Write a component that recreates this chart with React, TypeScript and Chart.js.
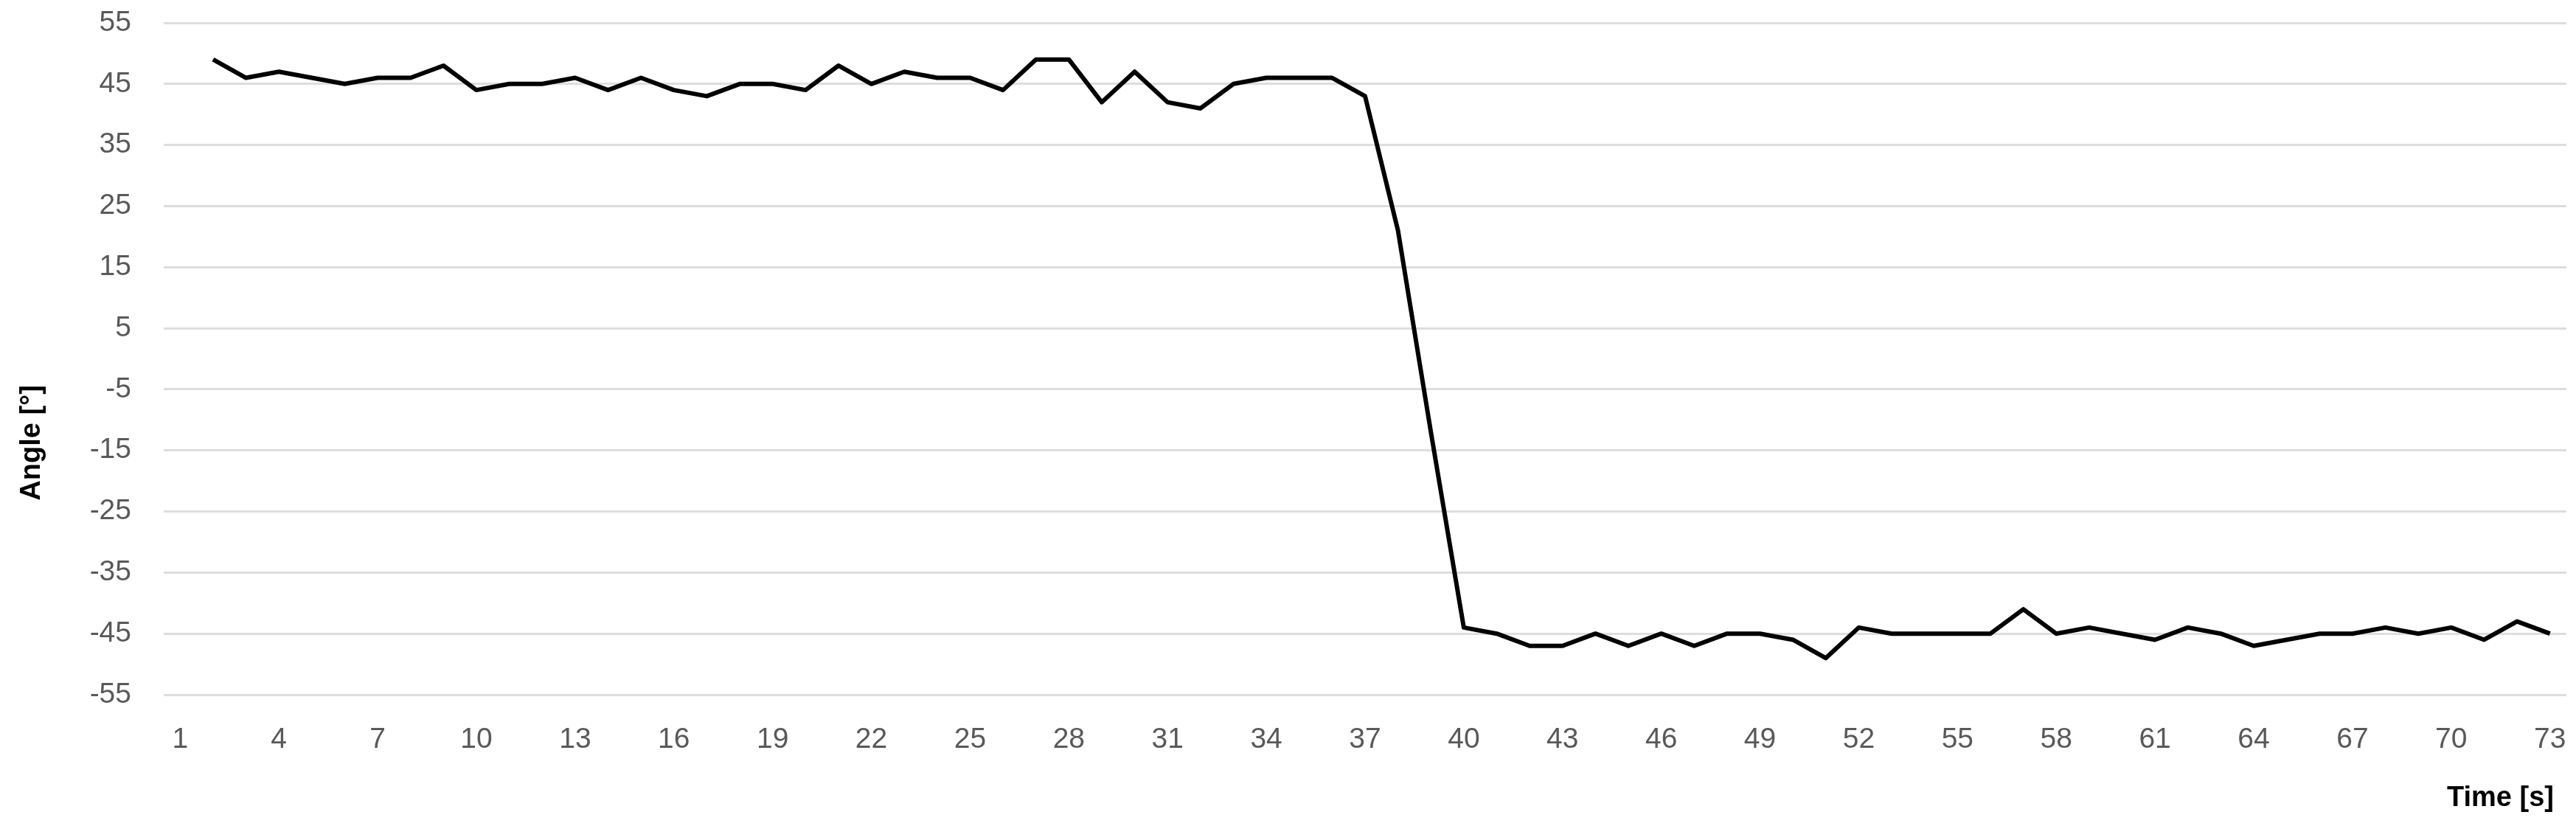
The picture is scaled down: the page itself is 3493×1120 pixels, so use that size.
import React, { useEffect, useRef } from "react";
import { Chart, registerables } from "chart.js";

Chart.register(...registerables);

const TIME_LABELS = [
  "1", "2", "3", "4", "5", "6", "7", "8", "9", "10",
  "11", "12", "13", "14", "15", "16", "17", "18", "19", "20",
  "21", "22", "23", "24", "25", "26", "27", "28", "29", "30",
  "31", "32", "33", "34", "35", "36", "37", "38", "39", "40",
  "41", "42", "43", "44", "45", "46", "47", "48", "49", "50",
  "51", "52", "53", "54", "55", "56", "57", "58", "59", "60",
  "61", "62", "63", "64", "65", "66", "67", "68", "69", "70",
  "71", "72", "73",
];

const ANGLE_VALUES: (number | null)[] = [
  null, 49, 46, 47, 46, 45, 46, 46, 48, 44,
  45, 45, 46, 44, 46, 44, 43, 45, 45, 44,
  48, 45, 47, 46, 46, 44, 49, 49, 42, 47,
  42, 41, 45, 46, 46, 46, 43, 21, -12, -44,
  -45, -47, -47, -45, -47, -45, -47, -45, -45, -46,
  -49, -44, -45, -45, -45, -45, -41, -45, -44, -45,
  -46, -44, -45, -47, -46, -45, -45, -44, -45, -44,
  -46, -43, -45,
];

const Y_TICKS = [-55, -45, -35, -25, -15, -5, 5, 15, 25, 35, 45, 55];
const X_TITLE = "Time [s]";
const Y_TITLE = "Angle [°]";

export default function App() {
  const canvasRef = useRef<HTMLCanvasElement>(null);

  useEffect(() => {
    document.body.style.margin = "0";
    const canvas = canvasRef.current;
    if (!canvas) return;

    const titlePlugin = {
      id: "axisTitles",
      afterDraw(chart: any) {
        const { ctx, chartArea } = chart;
        ctx.save();
        ctx.fillStyle = "#000000";
        ctx.font = 'bold 38px "Liberation Sans", Arial, sans-serif';
        ctx.textAlign = "right";
        ctx.textBaseline = "alphabetic";
        ctx.fillText(X_TITLE, chartArea.right - 17, chart.height - 27);
        ctx.translate(44, chartArea.top + chartArea.height * 0.625);
        ctx.rotate(-Math.PI / 2);
        ctx.textAlign = "center";
        ctx.textBaseline = "middle";
        ctx.fillText(Y_TITLE, 0, 0);
        ctx.restore();
      },
    };

    const chart = new Chart(canvas, {
      type: "line",
      data: {
        labels: TIME_LABELS,
        datasets: [
          {
            label: "Angle",
            data: ANGLE_VALUES,
            borderColor: "#000000",
            backgroundColor: "#000000",
            borderWidth: 6,
            borderJoinStyle: "round",
            pointRadius: 0,
            tension: 0,
            fill: false,
          },
        ],
      },
      options: {
        responsive: false,
        maintainAspectRatio: false,
        devicePixelRatio: 1,
        animation: false,
        layout: { padding: { left: 0, right: 13, top: 31, bottom: 0 } },
        plugins: {
          legend: { display: false },
          tooltip: { enabled: false },
          title: { display: false },
        },
        scales: {
          x: {
            type: "category",
            offset: true,
            grid: { display: false, drawTicks: false },
            border: { display: false },
            ticks: {
              autoSkip: false,
              maxRotation: 0,
              minRotation: 0,
              padding: 38,
              color: "#595959",
              font: { family: '"Liberation Sans", Arial, sans-serif', size: 39 },
              callback: (_v: any, i: number) => (i % 3 === 0 ? TIME_LABELS[i] : ""),
            },
            afterFit: (scale: any) => {
              scale.height = 178;
              scale.paddingLeft = 0;
              scale.paddingRight = 0;
            },
          },
          y: {
            type: "linear",
            min: -55,
            max: 55,
            grid: { color: "#dddddd", lineWidth: 3, drawTicks: false },
            border: { display: false },
            ticks: {
              padding: 44,
              color: "#595959",
              font: { family: '"Liberation Sans", Arial, sans-serif', size: 39 },
            },
            afterBuildTicks: (scale: any) => {
              scale.ticks = Y_TICKS.map((v) => ({ value: v }));
            },
            afterFit: (scale: any) => {
              scale.width = 222;
              scale.paddingTop = 0;
              scale.paddingBottom = 0;
            },
          },
        },
      },
      plugins: [titlePlugin],
    });

    return () => chart.destroy();
  }, []);

  return (
    <div style={{ position: "absolute", left: 0, top: 0, width: 3493, height: 1120, background: "#ffffff" }}>
      <canvas ref={canvasRef} width={3493} height={1120} style={{ display: "block" }} />
    </div>
  );
}
